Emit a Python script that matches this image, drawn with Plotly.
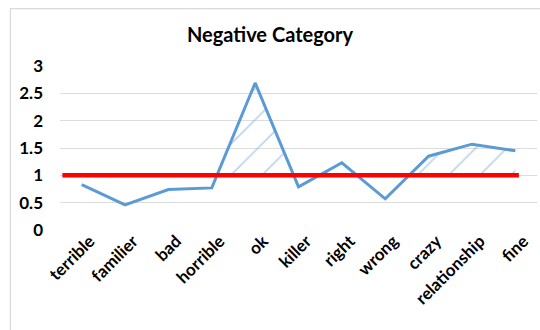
import numpy as np
import plotly.graph_objects as go

# Data
categories = ["terrible", "familier", "bad", "horrible", "ok", "killer",
              "right", "wrong", "crazy", "relationship", "fine"]
scores = [0.83, 0.46, 0.74, 0.77, 2.69, 0.79, 1.23, 0.57, 1.35, 1.57, 1.45]
threshold = 1.0
y_ticks = [0, 0.5, 1, 1.5, 2, 2.5, 3]
title_text = "Negative Category"

BLUE = "#5b9bd5"
RED = "#ff0000"
FONT = "Lato"

xs = np.arange(len(categories), dtype=float)
ys = np.array(scores, dtype=float)

# Build the polygon of the region where the scores rise above the threshold,
# including the crossing points, so it can be hatched.
fx, fy = [], []
for i in range(len(xs)):
    if i > 0:
        y0, y1 = ys[i - 1], ys[i]
        if (y0 - threshold) * (y1 - threshold) < 0:
            t = (threshold - y0) / (y1 - y0)
            fx.append(xs[i - 1] + t * (xs[i] - xs[i - 1]))
            fy.append(threshold)
    fx.append(xs[i])
    fy.append(max(ys[i], threshold))

fig = go.Figure()

# baseline for the hatched fill
fig.add_trace(go.Scatter(
    x=fx, y=[threshold] * len(fx), mode="lines",
    line=dict(width=0, color="rgba(0,0,0,0)"),
    hoverinfo="skip", showlegend=False,
))
fig.add_trace(go.Scatter(
    x=fx, y=fy, mode="lines", fill="tonexty",
    line=dict(width=0, color="rgba(0,0,0,0)"),
    fillcolor="rgba(0,0,0,0)",
    fillpattern=dict(shape="/", fgcolor="#7fa9d8", bgcolor="rgba(255,255,255,0)",
                     size=22, solidity=0.08, fillmode="overlay"),
    hoverinfo="skip", showlegend=False,
))

# score line
fig.add_trace(go.Scatter(
    x=xs, y=ys, mode="lines",
    line=dict(color=BLUE, width=3),
    showlegend=False,
))

# threshold line
fig.add_shape(type="line", xref="x domain", yref="y",
              x0=0.005, x1=0.962, y0=threshold, y1=threshold,
              line=dict(color=RED, width=4.5), layer="above")

# chart border
fig.add_shape(type="rect", xref="paper", yref="paper",
              x0=-0.104, x1=1.01, y0=-0.62, y1=1.35,
              line=dict(color="#d9d9d9", width=1.2), layer="below")

tick_font = dict(family=FONT, size=17, color="#000000", weight="bold")

fig.update_layout(
    width=540, height=330,
    margin=dict(l=60, r=3, t=66, b=100),
    paper_bgcolor="white", plot_bgcolor="white",
    title=dict(text=title_text, x=0.5, xanchor="center",
               y=1 - 35 / 330, yanchor="middle",
               font=dict(family=FONT, size=20, color="#000000", weight="bold")),
    xaxis=dict(
        tickmode="array", tickvals=xs.tolist(), ticktext=categories,
        range=[-0.5, len(categories) - 0.5],
        tickangle=-45, showgrid=False, zeroline=False, showline=False,
        ticks="", tickfont=tick_font,
        ticklabelshift=8, ticklabelstandoff=-3,
    ),
    yaxis=dict(
        tickmode="array", tickvals=y_ticks,
        ticktext=[f"{v:g}" for v in y_ticks],
        range=[0, 3], showgrid=True, gridcolor="#dcdcdc", gridwidth=1,
        zeroline=False, showline=False, ticks="",
        tickfont=tick_font,
        ticklabelstandoff=16,
    ),
    font=dict(family=FONT),
)

fig.write_html("out.html")
